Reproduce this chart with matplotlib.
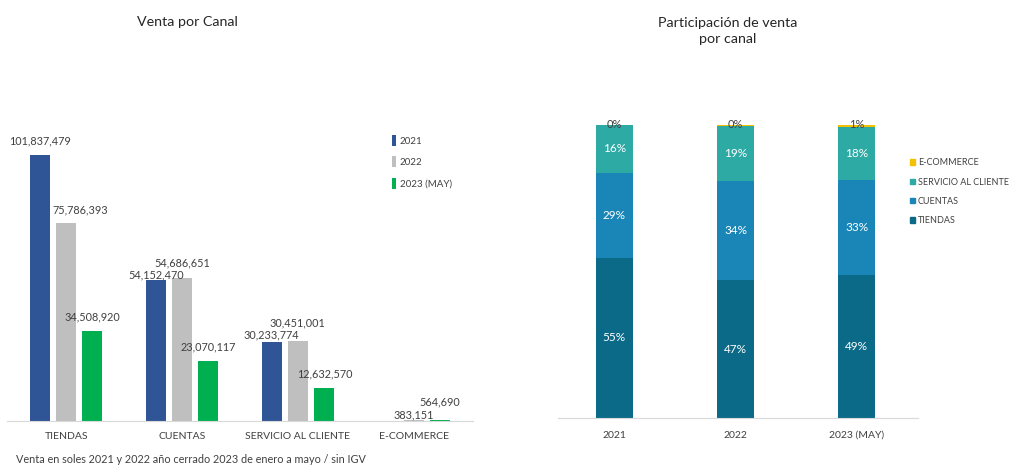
import numpy as np
import matplotlib
matplotlib.use("Agg")
import matplotlib.pyplot as plt
from matplotlib.patches import Patch

plt.rcParams['font.family'] = ['Lato', 'DejaVu Sans']

# datos
canales = ["TIENDAS", "CUENTAS", "SERVICIO AL CLIENTE", "E-COMMERCE"]
anios   = ["2021", "2022", "2023 (MAY)"]
venta_2021 = [101837479, 54152470, 30233774, 0]
venta_2022 = [75786393, 54686651, 30451001, 383151]
venta_2023 = [34508920, 23070117, 12632570, 564690]

COL_ANIO  = ["#2F5597", "#BFBFBF", "#00B050"]
COL_CANAL = ["#0B6A87", "#1A86B8", "#2EAAA5", "#F2C100"]
TXT = "#404040"

# posicion de etiquetas (px respecto al tope de la barra), como en el original
label_off = {
    0: [(0, 14), (0, 5), (-1, 7), None],
    1: [(14, 13), (0, 15), (-1, 19), (0, 5)],
    2: [(0, 14), (0, 14), (1, 14), (0, 18)],
}
PX = 72 / 100  # px -> puntos

fig = plt.figure(figsize=(10.09, 4.65), dpi=100)
W, H = 1009, 465

# ---------------- Venta por Canal ----------------
ax1 = fig.add_axes([7 / W, 1 - 421 / H, 466 / W, 291 / H])
x = np.arange(len(canales))
bw, step = 0.172, 0.224
series = [venta_2021, venta_2022, venta_2023]
for i, (vals, col) in enumerate(zip(series, COL_ANIO)):
    xs = x + (i - 1) * step
    ax1.bar(xs, vals, width=bw, color=col, label=anios[i], zorder=2)
    for j, v in enumerate(vals):
        off = label_off[i][j]
        if v == 0 or off is None:
            continue
        ax1.annotate(f"{v:,}", (xs[j], v), xytext=(off[0] * PX, off[1] * PX),
                     textcoords="offset points", ha="center", va="center",
                     fontsize=7.8, color=TXT)

ax1.set_xlim(-0.51, 3.51)
ax1.set_ylim(0, 101837479 * 291 / 266)
ax1.set_xticks(x)
ax1.set_xticklabels(canales, fontsize=7.5, color=TXT)
ax1.tick_params(axis="x", length=0, pad=8)
ax1.set_yticks([])
for s in ["top", "right", "left"]:
    ax1.spines[s].set_visible(False)
ax1.spines["bottom"].set_color("#D9D9D9")
h1, l1 = ax1.get_legend_handles_labels()
fig.legend(h1, l1, loc="upper left", bbox_to_anchor=(383 / W, 1 - 126 / H),
           frameon=False, fontsize=7, handlelength=0.45, handleheight=1.4,
           handletextpad=0.35, labelspacing=1.05, labelcolor=TXT)

fig.text(187 / W, 1 - 22 / H, "Venta por Canal", ha="center", va="center",
         fontsize=10.3, color="#262626")
fig.text(16 / W, 1 - 459 / H,
         "Venta en soles 2021 y 2022 año cerrado 2023 de enero a mayo / sin IGV",
         ha="left", va="center", fontsize=7.8, color=TXT)

# ---------------- Participación ----------------
ax2 = fig.add_axes([558 / W, 1 - 418 / H, 360 / W, 293 / H])
tot = np.array([sum(v) for v in series], dtype=float)
share = np.array([[series[a][c] / tot[a] for a in range(3)] for c in range(4)])
xa = np.arange(len(anios))
bottom = np.zeros(3)
for c in range(4):
    ax2.bar(xa, share[c], bottom=bottom, width=0.31, color=COL_CANAL[c],
            label=canales[c], zorder=2)
    for a in range(3):
        pct = f"{share[c, a] * 100:.0f}%"
        if c < 3:
            ax2.text(xa[a], bottom[a] + share[c, a] / 2, pct, ha="center",
                     va="center", fontsize=8.5, color="white")
        else:
            ax2.text(xa[a], 1.0, pct, ha="center", va="center", fontsize=8,
                     color=TXT, clip_on=False)
    bottom += share[c]

ax2.set_xlim(-0.465, 2.506)
ax2.set_ylim(0, 1)
ax2.set_xticks(xa)
ax2.set_xticklabels(anios, fontsize=7.5, color=TXT)
ax2.tick_params(axis="x", length=0, pad=9)
ax2.set_yticks([])
for s in ["top", "right", "left"]:
    ax2.spines[s].set_visible(False)
ax2.spines["bottom"].set_color("#D9D9D9")

handles = [Patch(color=COL_CANAL[c], label=canales[c]) for c in [3, 2, 1, 0]]
fig.legend(handles=handles, loc="upper left", bbox_to_anchor=(902 / W, 1 - 150 / H),
           frameon=False, fontsize=6.5, handlelength=0.5, handleheight=0.55,
           handletextpad=0.35, labelspacing=1.15, labelcolor=TXT)

fig.text(728 / W, 1 - 31 / H, "Participación de venta\npor canal", ha="center",
         va="center", fontsize=10.3, color="#262626", linespacing=1.45)

fig.savefig("out.png", dpi=100)
